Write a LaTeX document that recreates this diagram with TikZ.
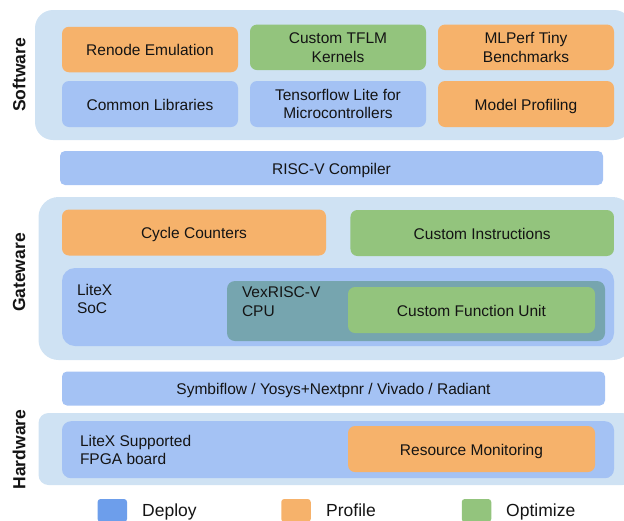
\documentclass[tikz,border=0pt]{standalone}
\usepackage{fontspec}
\setmainfont{Liberation Sans}
\definecolor{panelc}{HTML}{CFE2F3}
\definecolor{bluec}{HTML}{A4C2F4}
\definecolor{orangec}{HTML}{F6B26B}
\definecolor{greenc}{HTML}{93C47D}
\definecolor{tealc}{HTML}{76A5AF}
\definecolor{deployc}{HTML}{6D9EEB}
\tikzset{
  base/.style={draw=none,inner sep=0pt,outer sep=0pt,rectangle,align=center,text=black!92,
    font=\fontsize{15.5}{18.6}\selectfont,text depth=0pt},
  lowered/.style={text height=13.3pt},
  panel/.style={base,fill=panelc},
  bluebox/.style={base,fill=bluec,rounded corners=7pt},
  orangebox/.style={base,fill=orangec,rounded corners=7pt},
  greenbox/.style={base,fill=greenc,rounded corners=7pt},
  tealbox/.style={base,fill=tealc,rounded corners=8pt},
  textonly/.style={inner sep=0pt,outer sep=0pt,align=left,text=black!92,
    font=\fontsize{15.5}{18.6}\selectfont},
  sidelabel/.style={inner sep=0pt,rotate=90,font=\fontsize{17.5}{20}\selectfont\bfseries,text=black!92},
  legendlabel/.style={inner sep=0pt,anchor=base west,font=\fontsize{17.5}{20}\selectfont,text=black!92},
  legendswatch/.style={base,minimum width=29.5pt,minimum height=23pt,rounded corners=3pt},
}
\begin{document}
\begin{tikzpicture}[x=1pt,y=-1pt]
\clip (0,0) rectangle (624,520);
% panels
\node[panel,rounded corners=18pt,minimum width=597pt,minimum height=130pt] (software) at (333.5,75) {};
\node[panel,rounded corners=20pt,minimum width=594pt,minimum height=163pt] (gateware) at (335.5,278.5) {};
\node[panel,rounded corners=10pt,minimum width=594pt,minimum height=72pt] (hardware) at (335.5,449) {};
% software
\node[orangebox,minimum width=176pt,minimum height=45.5pt] (renode) at (150,49.5) {Renode Emulation};
\node[greenbox,minimum width=176pt,minimum height=45.5pt] (tflm) at (338,47.3) {Custom TFLM\\Kernels};
\node[orangebox,minimum width=176pt,minimum height=45.5pt] (mlperf) at (526,47.3) {MLPerf Tiny\\Benchmarks};
\node[bluebox,lowered,minimum width=176pt,minimum height=46pt] (common) at (150,104) {Common Libraries};
\node[bluebox,minimum width=176pt,minimum height=46pt] (tensor) at (338,104) {Tensorflow Lite for\\Microcontrollers};
\node[orangebox,lowered,minimum width=176pt,minimum height=46pt] (profiling) at (526,104) {Model Profiling};
% compiler
\node[bluebox,lowered,rounded corners=5pt,minimum width=543pt,minimum height=34pt] (compiler) at (331.5,168) {RISC-V Compiler};
% gateware
\node[orangebox,minimum width=264pt,minimum height=46pt] (cycle) at (194,232.5) {Cycle Counters};
\node[greenbox,lowered,minimum width=263.5pt,minimum height=46pt] (instr) at (482.2,233) {Custom Instructions};
\node[bluebox,rounded corners=13pt,minimum width=552pt,minimum height=78pt] (soc) at (338,307) {};
\node[textonly,anchor=north west] (soctext) at (77,284) {LiteX\\SoC};
\node[tealbox,minimum width=378pt,minimum height=60pt] (cpu) at (416,311) {};
\node[textonly,anchor=north west] (cputext) at (242,287) {VexRISC-V\\CPU};
\node[greenbox,lowered,minimum width=247pt,minimum height=46pt] (cfu) at (471.5,310) {Custom Function Unit};
% toolchain
\node[bluebox,rounded corners=5pt,minimum width=543pt,minimum height=34pt] (flow) at (333.5,388.5) {Symbiflow / Yosys+Nextpnr / Vivado / Radiant};
% hardware
\node[bluebox,rounded corners=9pt,minimum width=552pt,minimum height=57pt] (board) at (338,449.7) {};
\node[textonly,anchor=north west] (boardtext) at (80,435) {LiteX Supported\\FPGA board};
\node[orangebox,lowered,minimum width=247pt,minimum height=46pt] (monitor) at (471.5,449) {Resource Monitoring};
% side labels
\node[sidelabel] (softwarelabel) at (19,75) {Software};
\node[sidelabel] (gatewarelabel) at (19,272.5) {Gateware};
\node[sidelabel] (hardwarelabel) at (19,449.5) {Hardware};
% legend
\node[legendswatch,fill=deployc] (deployswatch) at (112.3,510.5) {};
\node[legendlabel] (deploylabel) at (142,516.5) {Deploy};
\node[legendswatch,fill=orangec] (profileswatch) at (296,510.5) {};
\node[legendlabel] (profilelabel) at (326,516.5) {Profile};
\node[legendswatch,fill=greenc] (optimizeswatch) at (476.5,510.5) {};
\node[legendlabel] (optimizelabel) at (506,516.5) {Optimize};
\end{tikzpicture}
\end{document}
